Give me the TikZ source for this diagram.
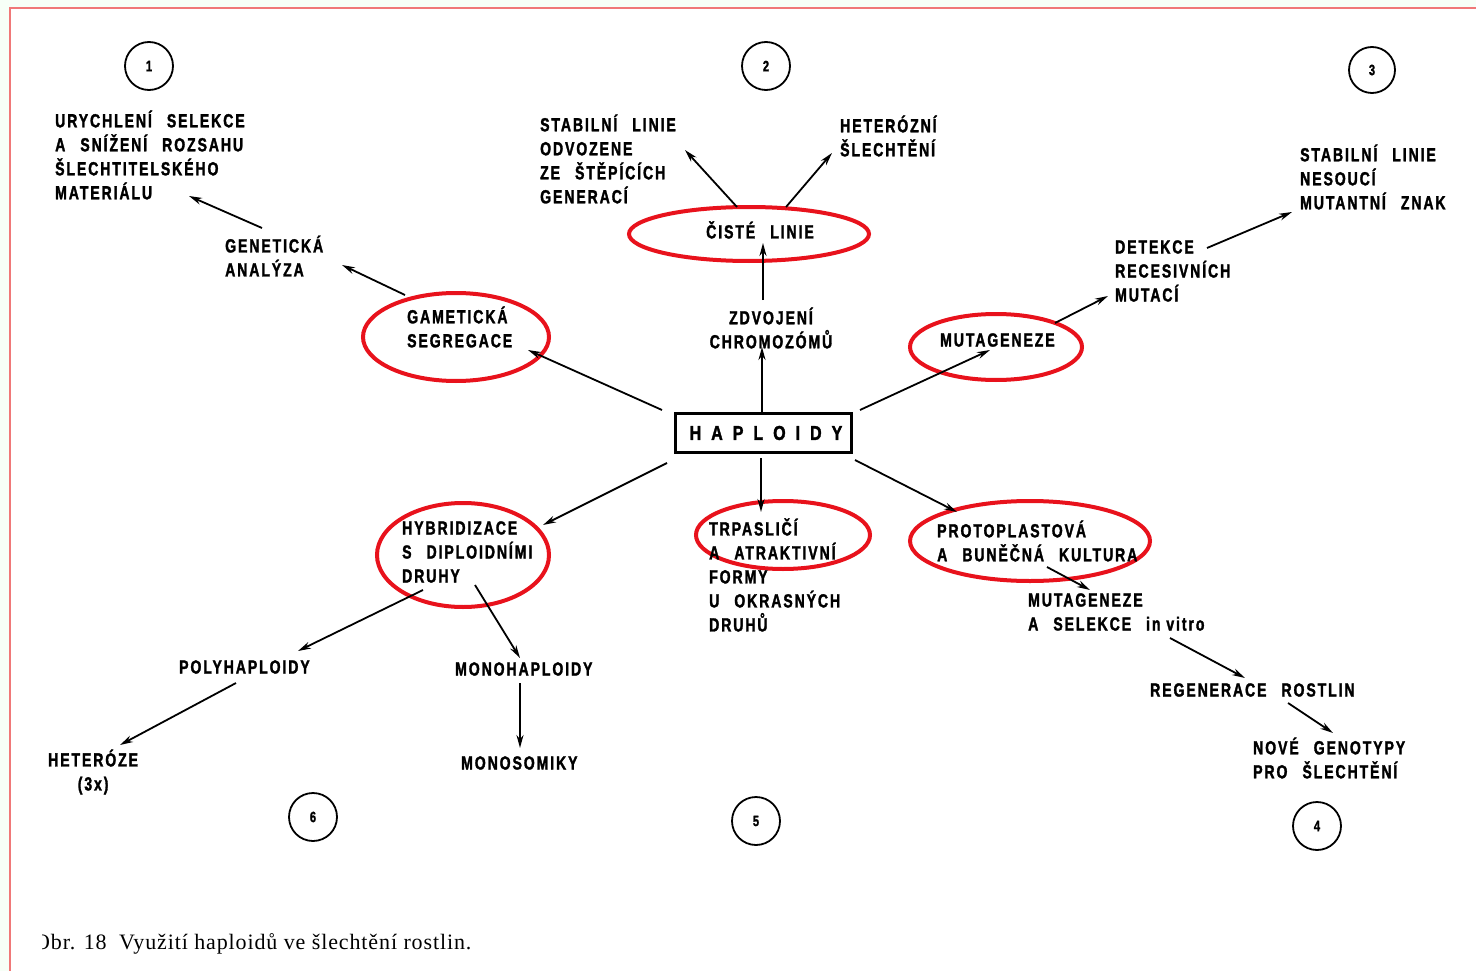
\documentclass[tikz,border=0pt]{standalone}
\usepackage{fontspec}
\setmainfont{Liberation Serif}
\newfontfamily\capfont[LetterSpace=4]{Liberation Serif}
\newfontfamily\lblfont[FakeStretch=0.74,LetterSpace=10,FakeBold=1.6]{Liberation Sans Bold}
\newfontfamily\hapfont[FakeStretch=0.8,LetterSpace=50,FakeBold=1.8]{Liberation Sans Bold}
\usetikzlibrary{arrows.meta}
\definecolor{ringred}{RGB}{232,18,28}
\definecolor{framered}{RGB}{240,120,120}
\newcommand{\gp}{\hspace{15pt}}
\tikzset{
  lbl/.style={inner sep=0pt, anchor=west, align=left, font=\lblfont\fontsize{19}{24}\selectfont},
  lblc/.style={lbl, anchor=center, align=center},
  arr/.style={line width=1.8pt, -{Stealth[length=13pt,width=7pt]}},
  ring/.style={draw=ringred, line width=4pt},
  numc/.style={draw, circle, line width=1.8pt, minimum size=48pt, inner sep=0pt, font=\lblfont\fontsize{15}{15}\selectfont}
}
\begin{document}
\begin{tikzpicture}[x=1pt,y=-1pt]
\useasboundingbox (0,0) rectangle (1476,971);
\fill[white] (0,0) rectangle (1476,971);
\fill[green!3] (0,0) rectangle (1476,7);
\fill[green!3] (0,0) rectangle (10,971);
\draw[framered, line width=2pt] (10,971) -- (10,8) -- (1476,8);

% number circles
\node[numc] (n1) at (149,66) {1};
\node[numc] (n2) at (766,66) {2};
\node[numc, minimum size=46pt] (n3) at (1372,70) {3};
\node[numc] (n4) at (1317,826) {4};
\node[numc] (n5) at (756,821) {5};
\node[numc] (n6) at (313,817) {6};

% central box
\node[draw, line width=3pt, minimum width=176pt, minimum height=39pt, inner sep=0pt, font=\hapfont\fontsize{20}{20}\selectfont] (hap) at (763,433) {\hspace{6pt}HAPLOIDY};

% red rings
\draw[ring] (456,337) ellipse [x radius=93, y radius=44];
\draw[ring] (749,234) ellipse [x radius=120, y radius=27];
\draw[ring] (996,347) ellipse [x radius=86, y radius=33];
\draw[ring] (463,555) ellipse [x radius=86, y radius=52];
\draw[ring] (783,535) ellipse [x radius=87, y radius=34];
\draw[ring] (1030,541) ellipse [x radius=120, y radius=40];

% texts
\node[lbl] (t1) at (55,155) {URYCHLENÍ\gp SELEKCE\\A\gp SNÍŽENÍ\gp ROZSAHU\\ŠLECHTITELSKÉHO\\MATERIÁLU};
\node[lbl] (gen) at (225,256) {GENETICKÁ\\ANALÝZA};
\node[lbl] (gam) at (407,327) {GAMETICKÁ\\SEGREGACE};
\node[lbl] (stab2) at (540,159) {STABILNÍ\gp LINIE\\ODVOZENE\\ZE\gp ŠTĚPÍCÍCH\\GENERACÍ};
\node[lbl] (het) at (840,136) {HETERÓZNÍ\\ŠLECHTĚNÍ};
\node[lblc] (cis) at (760,230) {ČISTÉ\gp LINIE};
\node[lblc] (zdv) at (771,328) {ZDVOJENÍ\\CHROMOZÓMŮ};
\node[lbl] (stab3) at (1300,177) {STABILNÍ\gp LINIE\\NESOUCÍ\\MUTANTNÍ\gp ZNAK};
\node[lbl] (det) at (1115,271) {DETEKCE\\RECESIVNÍCH\\MUTACÍ};
\node[lbl] (mut) at (940,340) {MUTAGENEZE};
\node[lbl] (hyb) at (402,552) {HYBRIDIZACE\\S\gp DIPLOIDNÍMI\\DRUHY};
\node[lbl] (poly) at (179,667) {POLYHAPLOIDY};
\node[lbl] (mono) at (455,669) {MONOHAPLOIDY};
\node[lbl, align=center] (hetz) at (48,772) {HETERÓZE\\(3x)};
\node[lbl] (monos) at (461,763) {MONOSOMIKY};
\node[lbl] (trp) at (709,575) {TRPASLIČÍ\\A\gp ATRAKTIVNÍ\\FORMY\\U\gp OKRASNÝCH\\DRUHŮ};
\node[lbl] (prot) at (937,541) {PROTOPLASTOVÁ\\A\gp BUNĚČNÁ\gp KULTURA};
\node[lbl] (mutv) at (1028,612) {MUTAGENEZE\\A\gp SELEKCE\gp in vitro};
\node[lbl] (reg) at (1150,690) {REGENERACE\gp ROSTLIN};
\node[lbl] (nove) at (1253,758) {NOVÉ\gp GENOTYPY\\PRO\gp ŠLECHTĚNÍ};

% arrow end points
\coordinate (a1s) at (662,410); \coordinate (a1e) at (528,350);
\coordinate (a2s) at (405,295); \coordinate (a2e) at (342,265);
\coordinate (a3s) at (262,228); \coordinate (a3e) at (189,196);
\coordinate (a4s) at (762,412); \coordinate (a4e) at (762,347);
\coordinate (a5s) at (763,300); \coordinate (a5e) at (763,243);
\coordinate (a6s) at (737,207); \coordinate (a6e) at (685,150);
\coordinate (a7s) at (786,207); \coordinate (a7e) at (832,153);
\coordinate (a8s) at (860,410); \coordinate (a8e) at (990,350);
\coordinate (a9s) at (1055,323); \coordinate (a9e) at (1108,296);
\coordinate (b1s) at (1207,248); \coordinate (b1e) at (1292,212);
\coordinate (b2s) at (667,463); \coordinate (b2e) at (543,525);
\coordinate (b3s) at (423,590); \coordinate (b3e) at (298,651);
\coordinate (b4s) at (236,683); \coordinate (b4e) at (120,745);
\coordinate (b5s) at (475,585); \coordinate (b5e) at (520,658);
\coordinate (b6s) at (520,683); \coordinate (b6e) at (520,748);
\coordinate (b7s) at (761,458); \coordinate (b7e) at (761,512);
\coordinate (b8s) at (855,460); \coordinate (b8e) at (957,512);
\coordinate (b9s) at (1047,567); \coordinate (b9e) at (1090,590);
\coordinate (c1s) at (1170,638); \coordinate (c1e) at (1245,678);
\coordinate (c2s) at (1288,703); \coordinate (c2e) at (1333,733);

\foreach \a in {a1,a2,a3,a4,a5,a6,a7,a8,a9,b1,b2,b3,b4,b5,b6,b7,b8,b9,c1,c2}
  \draw[arr] (\a s) -- (\a e);

% caption
\begin{scope}
\clip (42,900) rectangle (700,971);
\node[inner sep=0pt, anchor=west, font=\capfont\fontsize{22}{24}\selectfont] (cap) at (34,944) {Obr. 18\hspace{6pt} Využití haploidů ve šlechtění rostlin.};
\end{scope}
\end{tikzpicture}
\end{document}
